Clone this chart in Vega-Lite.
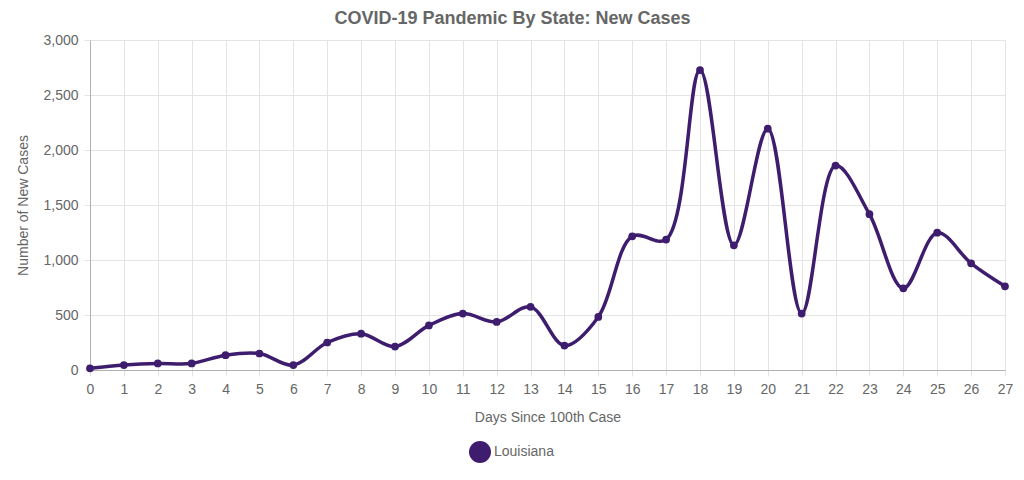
{
  "$schema": "https://vega.github.io/schema/vega-lite/v6.json",
  "width": 915,
  "height": 330,
  "autosize": {"type": "none"},
  "padding": {"left": 90, "top": 40, "right": 19, "bottom": 110},
  "background": "white",
  "title": {
    "text": "COVID-19 Pandemic By State: New Cases",
    "anchor": "middle",
    "dx": -35,
    "offset": 5,
    "font": "Liberation Sans",
    "fontSize": 18,
    "fontWeight": "bold",
    "color": "#666666"
  },
  "config": {
    "view": {"stroke": null},
    "font": "Liberation Sans",
    "axis": {
      "labelFont": "Liberation Sans",
      "titleFont": "Liberation Sans",
      "labelFontSize": 14,
      "titleFontSize": 14,
      "labelColor": "#666666",
      "titleColor": "#666666",
      "titleFontWeight": "normal",
      "gridColor": "#e4e4e4",
      "tickColor": "#e4e4e4",
      "domainColor": "#b0b0b0"
    }
  },
  "data": {
    "values": [
      {"day": 0, "cases": 15, "state": "Louisiana"},
      {"day": 1, "cases": 45, "state": "Louisiana"},
      {"day": 2, "cases": 60, "state": "Louisiana"},
      {"day": 3, "cases": 60, "state": "Louisiana"},
      {"day": 4, "cases": 135, "state": "Louisiana"},
      {"day": 5, "cases": 150, "state": "Louisiana"},
      {"day": 6, "cases": 45, "state": "Louisiana"},
      {"day": 7, "cases": 250, "state": "Louisiana"},
      {"day": 8, "cases": 330, "state": "Louisiana"},
      {"day": 9, "cases": 213, "state": "Louisiana"},
      {"day": 10, "cases": 405, "state": "Louisiana"},
      {"day": 11, "cases": 513, "state": "Louisiana"},
      {"day": 12, "cases": 437, "state": "Louisiana"},
      {"day": 13, "cases": 574, "state": "Louisiana"},
      {"day": 14, "cases": 222, "state": "Louisiana"},
      {"day": 15, "cases": 482, "state": "Louisiana"},
      {"day": 16, "cases": 1215, "state": "Louisiana"},
      {"day": 17, "cases": 1186, "state": "Louisiana"},
      {"day": 18, "cases": 2727, "state": "Louisiana"},
      {"day": 19, "cases": 1134, "state": "Louisiana"},
      {"day": 20, "cases": 2194, "state": "Louisiana"},
      {"day": 21, "cases": 513, "state": "Louisiana"},
      {"day": 22, "cases": 1859, "state": "Louisiana"},
      {"day": 23, "cases": 1416, "state": "Louisiana"},
      {"day": 24, "cases": 743, "state": "Louisiana"},
      {"day": 25, "cases": 1248, "state": "Louisiana"},
      {"day": 26, "cases": 970, "state": "Louisiana"},
      {"day": 27, "cases": 761, "state": "Louisiana"}
    ]
  },
  "encoding": {
    "x": {
      "field": "day",
      "type": "quantitative",
      "scale": {"domain": [0, 27], "nice": false, "zero": false},
      "axis": {
        "title": "Days Since 100th Case",
        "values": [0,1,2,3,4,5,6,7,8,9,10,11,12,13,14,15,16,17,18,19,20,21,22,23,24,25,26,27],
        "format": "d",
        "labelFlush": false,
        "labelBound": false,
        "tickSize": 6,
        "labelPadding": 6,
        "titlePadding": 14
      }
    },
    "y": {
      "field": "cases",
      "type": "quantitative",
      "scale": {"domain": [0, 3000], "nice": false},
      "axis": {
        "title": "Number of New Cases",
        "values": [0, 500, 1000, 1500, 2000, 2500, 3000],
        "format": ",d",
        "labelFlush": false,
        "labelBound": false,
        "tickSize": 6,
        "labelPadding": 6,
        "titlePadding": 12
      }
    },
    "color": {
      "field": "state",
      "type": "nominal",
      "scale": {"range": ["#3f1d6e"]},
      "legend": {
        "title": null,
        "orient": "none",
        "legendX": 379,
        "legendY": 401,
        "symbolType": "circle",
        "symbolSize": 484,
        "symbolStrokeWidth": 0,
        "labelFont": "Liberation Sans",
        "labelFontSize": 14,
        "labelColor": "#666666",
        "labelOffset": 3
      }
    }
  },
  "layer": [
    {
      "mark": {"type": "line", "interpolate": "catmull-rom", "strokeWidth": 3.5}
    },
    {
      "mark": {"type": "point", "filled": true, "size": 60, "opacity": 1}
    }
  ]
}
